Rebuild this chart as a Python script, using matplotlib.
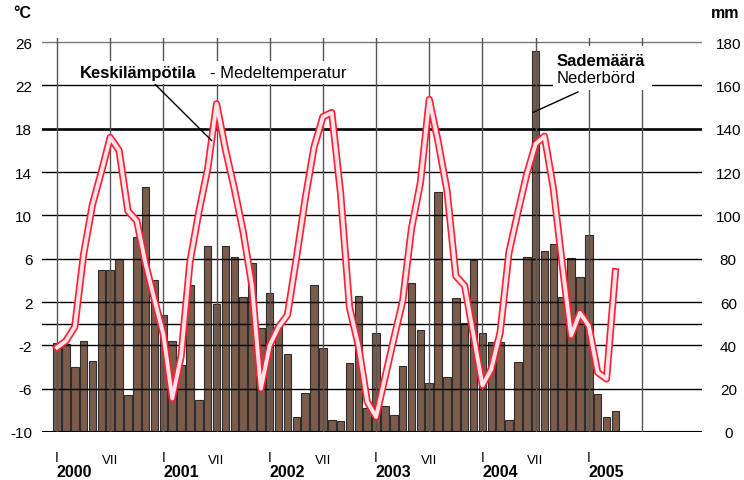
import matplotlib.pyplot as plt
from matplotlib.patches import Rectangle

# kuukausiarvot 2000-01 ... 2005-04
sademaara = [41, 40.5, 30, 42, 33, 75, 75, 80, 17, 90,
             113, 70, 54, 42, 31, 68, 15, 86, 59, 86,
             81, 62.5, 78, 48, 64, 49, 36, 7, 18, 68,
             39, 5.5, 5, 32, 63, 11, 45.5, 12, 8, 30.5,
             69, 47, 22.5, 111, 25.5, 62, 50.5, 79.5, 45.5, 41.5,
             41.5, 5.5, 32.5, 81, 176, 83.5, 87, 62.5, 80.5, 71.5,
             91, 17.5, 7, 9.5]
lampotila = [-2.2, -1.6, -0.3, 6.4, 11.0, 14.0, 17.2, 16.0, 10.4, 9.5,
             5.5, 2.2, -1.0, -6.9, -3.0, 5.7, 10.3, 14.3, 20.3, 16.1,
             12.5, 8.5, 3.5, -6.0, -2.0, -0.3, 0.8, 6.0, 11.5, 16.3,
             19.1, 19.5, 12.0, 1.5, -2.0, -7.2, -8.6, -5.0, -1.4, 2.1,
             8.8, 13.0, 20.7, 16.8, 12.3, 4.4, 3.5, -1.1, -5.7, -4.2,
             -0.8, 6.6, 10.3, 13.8, 16.6, 17.3, 12.5, 5.5, -1.1, 1.0,
             -0.2, -4.5, -5.1, 4.8]
vuodet = ['2000', '2001', '2002', '2003', '2004', '2005']
kuukausi_tekstit = ['I', 'VII']
temp_ticks = [-10, -6, -2, 2, 6, 10, 14, 18, 22, 26]
mm_ticks = [0, 20, 40, 60, 80, 100, 120, 140, 160, 180]

kk = list(range(len(sademaara)))

plt.rcParams['font.family'] = ['Liberation Sans', 'DejaVu Sans']

fig = plt.figure(figsize=(7.44, 4.81), dpi=100)
ax = fig.add_axes([0.0565, 0.0998, 0.887, 0.8197])
ax2 = ax.twinx()
ax.set_zorder(2)
ax2.set_zorder(1)
ax.patch.set_visible(False)

# pylväät (mm)
ax2.bar(kk, sademaara, width=0.85, color='#7b5b4a', edgecolor='#2e2e2e', linewidth=0.8)
ax2.set_ylim(0, 182)

ax.set_xlim(-1.69, 72.77)
ax.set_ylim(-10, 26.4)

# ruudukko
for t in temp_ticks + [0]:
    lw = 1.0
    col = 'black'
    if t == 18:
        lw = 1.9
    if t == 26:
        col = '#777777'
    if t == -10:
        lw = 1.5
    ax.axhline(t, color=col, lw=lw, zorder=1)
for m in range(0, 67, 6):
    ax.axvline(m, color='#555555', lw=1.0, zorder=1)

# lämpötila
ax.plot(kk, lampotila, color='#ff1f30', lw=5.2, zorder=3, solid_joinstyle='round')
ax.plot(kk, lampotila, color='#fde4ea', lw=2.8, zorder=4, solid_joinstyle='round')

for a in (ax, ax2):
    for s in a.spines.values():
        s.set_visible(False)
    a.tick_params(length=0)
    a.set_xticks([])

ax.set_yticks(temp_ticks)
ax.set_yticklabels([str(t) for t in temp_ticks], fontsize=11)
ax.tick_params(axis='y', pad=7)
ax2.set_yticks(mm_ticks)
ax2.set_yticklabels([str(t) for t in mm_ticks], fontsize=11, ha='center')
ax2.tick_params(axis='y', pad=19)

# x-akselin tekstit
tr = ax.get_xaxis_transform()
for i in range(len(vuodet)):
    ax.text(12 * i, -0.063, kuukausi_tekstit[0], transform=tr, ha='center', va='center', fontsize=10)
    if i < 5:
        ax.text(12 * i + 6, -0.070, kuukausi_tekstit[1], transform=tr, ha='center', va='center', fontsize=9.5)
    ax.text(12 * i + 2, -0.100, vuodet[i], transform=tr, ha='center', va='center', fontsize=11.5, fontweight='bold')

fig.text(22 / 744, 1 - 14 / 481, '°C', ha='center', va='center', fontsize=11.5, fontweight='bold')
fig.text(725 / 744, 1 - 14 / 481, 'mm', ha='center', va='center', fontsize=11.5, fontweight='bold')

# selitteet
box = dict(facecolor='white', edgecolor='none', pad=3)
ax.text(2.6, 23.2, 'Keskilämpötila', fontsize=12, fontweight='bold', va='center', ha='left', bbox=box, zorder=6)
ax.text(17.26, 23.2, '- Medeltemperatur', fontsize=12, va='center', ha='left', bbox=box, zorder=6)
ax.annotate('', xy=(17.45, 16.9), xytext=(11.06, 22.1),
            arrowprops=dict(arrowstyle='-', color='black', lw=1.0, shrinkA=0, shrinkB=0), zorder=5)

ax.add_patch(Rectangle((55.96, 21.57), 11.17, 4.06, facecolor='white', edgecolor='none', zorder=5))
ax.text(56.4, 24.3, 'Sademäärä', fontsize=12, fontweight='bold', va='center', ha='left', zorder=6)
ax.text(56.4, 22.7, 'Nederbörd', fontsize=12, va='center', ha='left', zorder=6)
ax.annotate('', xy=(53.7, 19.5), xytext=(58.8, 21.4),
            arrowprops=dict(arrowstyle='-', color='black', lw=1.0, shrinkA=0, shrinkB=0), zorder=5)

fig.savefig('out.png', dpi=100, facecolor='white')
